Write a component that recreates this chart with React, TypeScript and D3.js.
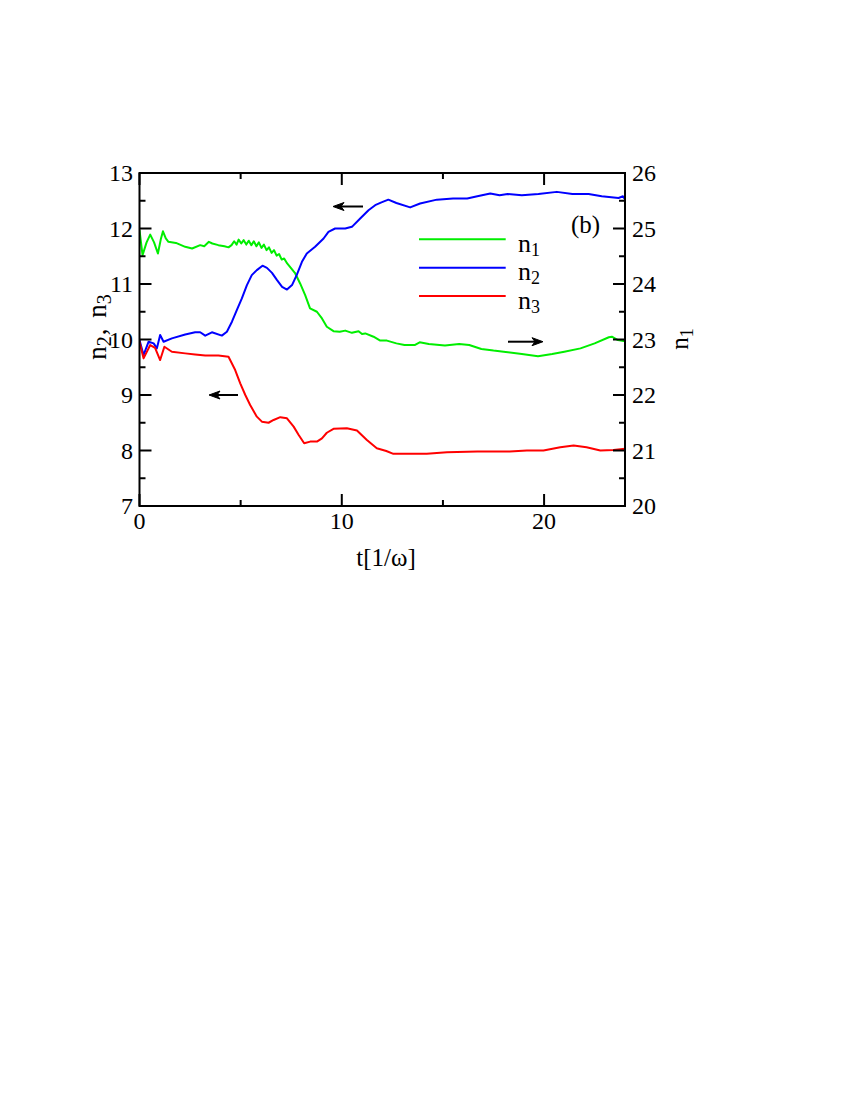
import React from "react";
import * as d3 from "d3";

const tN1: number[] = [0.0, 0.15, 0.35, 0.53, 0.72, 0.91, 1.05, 1.16, 1.3, 1.43, 1.8, 2.26, 2.6, 3.0, 3.2, 3.43, 3.6, 3.9, 4.2, 4.4,
  4.55, 4.68, 4.8, 4.9, 5.03, 5.15, 5.28, 5.4, 5.53, 5.65, 5.78, 5.9, 6.03, 6.15, 6.28, 6.4, 6.53, 6.65, 6.78, 6.9, 7.03, 7.15, 7.3,
  7.37, 7.7, 7.94, 8.19, 8.43, 8.77, 9.02, 9.26, 9.59, 9.9, 10.17, 10.5, 10.83, 11.0, 11.16, 11.57, 11.9, 12.23, 12.7, 13.1, 13.6, 13.85,
  14.3, 15.1, 15.8, 16.3, 16.9, 17.5, 18.0, 18.9, 19.7, 20.4, 21.0, 21.8, 22.5, 23.2, 23.35, 23.65, 24.0];
const n1: number[] = [24.97, 24.52, 24.75, 24.89, 24.75, 24.55, 24.8, 24.95, 24.82, 24.76, 24.74, 24.67, 24.64, 24.7, 24.68, 24.76, 24.73, 24.7, 24.68, 24.66,
  24.7, 24.77, 24.71, 24.8, 24.73, 24.79, 24.71, 24.78, 24.7, 24.77, 24.68, 24.75, 24.65, 24.71, 24.61, 24.66, 24.56, 24.61, 24.51, 24.54, 24.44, 24.46, 24.37,
  24.34, 24.19, 24.01, 23.8, 23.56, 23.5, 23.38, 23.23, 23.15, 23.14, 23.16, 23.12, 23.15, 23.1, 23.11, 23.05, 22.98, 22.98, 22.93, 22.9, 22.9, 22.95,
  22.92, 22.89, 22.92, 22.9, 22.83, 22.8, 22.78, 22.74, 22.7, 22.74, 22.78, 22.84, 22.93, 23.04, 23.05, 22.99, 22.97];

const tN2: number[] = [0.0, 0.2, 0.45, 0.7, 0.86, 1.02, 1.19, 1.6, 2.26, 2.75, 3.0, 3.25, 3.58, 4.07, 4.32, 4.57, 4.81, 5.06, 5.31, 5.55, 5.8, 6.08, 6.3,
  6.55, 6.8, 7.05, 7.29, 7.54, 7.78, 8.03, 8.27, 8.68, 9.1, 9.34, 9.67, 10.17, 10.5, 10.91, 11.32, 11.65, 11.96, 12.3, 12.7, 13.38, 13.87, 14.7,
  15.5, 16.2, 16.7, 17.34, 17.8, 18.2, 18.9, 19.72, 20.63, 21.4, 22.2, 22.85, 23.68, 23.9, 24.0];
const n2: number[] = [9.99, 9.72, 9.96, 9.93, 9.84, 10.08, 9.96, 10.02, 10.09, 10.13, 10.13, 10.07, 10.13, 10.07, 10.14, 10.32, 10.53, 10.74, 10.98, 11.16, 11.25, 11.33, 11.29,
  11.2, 11.07, 10.95, 10.9, 10.98, 11.17, 11.4, 11.55, 11.67, 11.82, 11.94, 12.0, 12.0, 12.03, 12.18, 12.33, 12.42, 12.47, 12.52, 12.46, 12.38, 12.45, 12.52,
  12.54, 12.54, 12.58, 12.63, 12.6, 12.62, 12.6, 12.62, 12.66, 12.62, 12.62, 12.58, 12.55, 12.58, 12.53];

const tN3: number[] = [0.0, 0.2, 0.53, 0.77, 1.02, 1.23, 1.6, 2.26, 2.75, 3.25, 3.9, 4.4, 4.73, 4.98, 5.23, 5.47, 5.8, 6.05, 6.38, 6.63, 6.96, 7.29,
  7.62, 7.87, 8.14, 8.44, 8.77, 9.02, 9.26, 9.59, 10.25, 10.75, 11.24, 11.73, 12.2, 12.55, 13.38, 14.2, 15.2, 16.7, 18.3, 19.15, 19.97, 20.8,
  21.46, 22.1, 22.78, 23.43, 24.0];
const n3: number[] = [9.96, 9.66, 9.9, 9.85, 9.63, 9.87, 9.78, 9.75, 9.73, 9.71, 9.71, 9.69, 9.45, 9.21, 9.0, 8.82, 8.61, 8.52, 8.5, 8.55, 8.6, 8.58,
  8.43, 8.28, 8.13, 8.16, 8.16, 8.22, 8.32, 8.39, 8.4, 8.36, 8.19, 8.04, 7.99, 7.94, 7.94, 7.94, 7.97, 7.98, 7.98, 8.0, 8.0, 8.06,
  8.09, 8.06, 8.0, 8.01, 8.03];

const xTicks: number[] = [0, 10, 20];
const xMinor: number[] = [5, 15];
const leftTicks: number[] = [7, 8, 9, 10, 11, 12, 13];
const rightTicks: number[] = [20, 21, 22, 23, 24, 25, 26];

const GREEN = "#00ee00";
const BLUE = "#0000ff";
const RED = "#ff0000";

const X0 = 139.5, X1 = 625, Y0 = 173, Y1 = 506;
const FONT = "Liberation Serif, DejaVu Serif, serif";

function Arrow({ x1, x2, y }: { x1: number; x2: number; y: number }) {
  const dir = x2 > x1 ? 1 : -1;
  const hl = 11, hw = 4;
  return (
    <g>
      <line x1={x1} y1={y} x2={x2 - dir * 4} y2={y} stroke="black" strokeWidth={2} />
      <path d={`M${x2},${y} L${x2 - dir * hl},${y - hw} L${x2 - dir * (hl - 3)},${y} L${x2 - dir * hl},${y + hw} Z`} fill="black" stroke="black" strokeWidth={1} />
    </g>
  );
}

export default function App() {
  const x = d3.scaleLinear().domain([0, 24]).range([X0, X1]);
  const yL = d3.scaleLinear().domain([7, 13]).range([Y1, Y0]);
  const yR = d3.scaleLinear().domain([20, 26]).range([Y1, Y0]);

  const mk = (ts: number[], vs: number[], ys: d3.ScaleLinear<number, number>) =>
    d3.line<number>().x((_, i) => x(ts[i])).y((d) => ys(d))(vs) || "";

  const leftMinor = d3.range(7.5, 13, 1);
  const rightMinor = d3.range(20.5, 26, 1);

  const legend = [
    { c: GREEN, s: "1" },
    { c: BLUE, s: "2" },
    { c: RED, s: "3" },
  ];
  const legY = [239.3, 267.7, 296];

  return (
    <svg width={850} height={1100} fontFamily={FONT} style={{ display: "block", position: "absolute", left: 0, top: 0 }}>
      <rect x={0} y={0} width={850} height={1100} fill="white" />
      <defs>
        <clipPath id="plotclip">
          <rect x={X0} y={Y0} width={X1 - X0} height={Y1 - Y0} />
        </clipPath>
      </defs>
      <g clipPath="url(#plotclip)" fill="none" strokeWidth={2} strokeLinejoin="round">
        <path d={mk(tN1, n1, yR)} stroke={GREEN} />
        <path d={mk(tN2, n2, yL)} stroke={BLUE} />
        <path d={mk(tN3, n3, yL)} stroke={RED} />
      </g>
      <rect x={X0} y={Y0} width={X1 - X0} height={Y1 - Y0} fill="none" stroke="black" strokeWidth={2} />
      {xTicks.map((t) => (
        <g key={"xt" + t}>
          <line x1={x(t)} x2={x(t)} y1={Y1} y2={Y1 - 12} stroke="black" strokeWidth={2} />
          <line x1={x(t)} x2={x(t)} y1={Y0} y2={Y0 + 12} stroke="black" strokeWidth={2} />
          <text x={x(t)} y={529} textAnchor="middle" fontSize={24}>{t}</text>
        </g>
      ))}
      {xMinor.map((t) => (
        <g key={"xm" + t}>
          <line x1={x(t)} x2={x(t)} y1={Y1} y2={Y1 - 6} stroke="black" strokeWidth={2} />
          <line x1={x(t)} x2={x(t)} y1={Y0} y2={Y0 + 6} stroke="black" strokeWidth={2} />
        </g>
      ))}
      {leftTicks.map((v) => (
        <g key={"yl" + v}>
          <line x1={X0} x2={X0 + 12} y1={yL(v)} y2={yL(v)} stroke="black" strokeWidth={2} />
          <text x={133} y={yL(v) + 8} textAnchor="end" fontSize={24}>{v}</text>
        </g>
      ))}
      {leftMinor.map((v) => (
        <line key={"ylm" + v} x1={X0} x2={X0 + 6} y1={yL(v)} y2={yL(v)} stroke="black" strokeWidth={2} />
      ))}
      {rightTicks.map((v) => (
        <g key={"yr" + v}>
          <line x1={X1} x2={X1 - 12} y1={yR(v)} y2={yR(v)} stroke="black" strokeWidth={2} />
          <text x={632} y={yR(v) + 8} textAnchor="start" fontSize={24}>{v}</text>
        </g>
      ))}
      {rightMinor.map((v) => (
        <line key={"yrm" + v} x1={X1} x2={X1 - 6} y1={yR(v)} y2={yR(v)} stroke="black" strokeWidth={2} />
      ))}
      <text x={386} y={566} textAnchor="middle" fontSize={25}>t[1/ω]</text>
      <text transform="translate(106,327) rotate(-90)" textAnchor="middle" fontSize={27}>
        n<tspan fontSize={20} dy={5}>2</tspan><tspan dy={-5} dx={1}>, </tspan><tspan dx={4}>n</tspan><tspan fontSize={20} dy={5}>3</tspan>
      </text>
      <text transform="translate(688,339) rotate(-90)" textAnchor="middle" fontSize={25}>
        n<tspan fontSize={18} dy={5}>1</tspan>
      </text>
      {legend.map((l, i) => (
        <g key={"lg" + i}>
          <line x1={419} x2={505.7} y1={legY[i]} y2={legY[i]} stroke={l.c} strokeWidth={2} />
          <text x={518} y={legY[i] + 12.5} fontSize={26}>
            n<tspan fontSize={18} dy={4}>{l.s}</tspan>
          </text>
        </g>
      ))}
      <text x={571} y={233} fontSize={25}>(b)</text>
      <Arrow x1={363} x2={333} y={206.5} />
      <Arrow x1={238} x2={209} y={395} />
      <Arrow x1={508} x2={543} y={341.7} />
    </svg>
  );
}
